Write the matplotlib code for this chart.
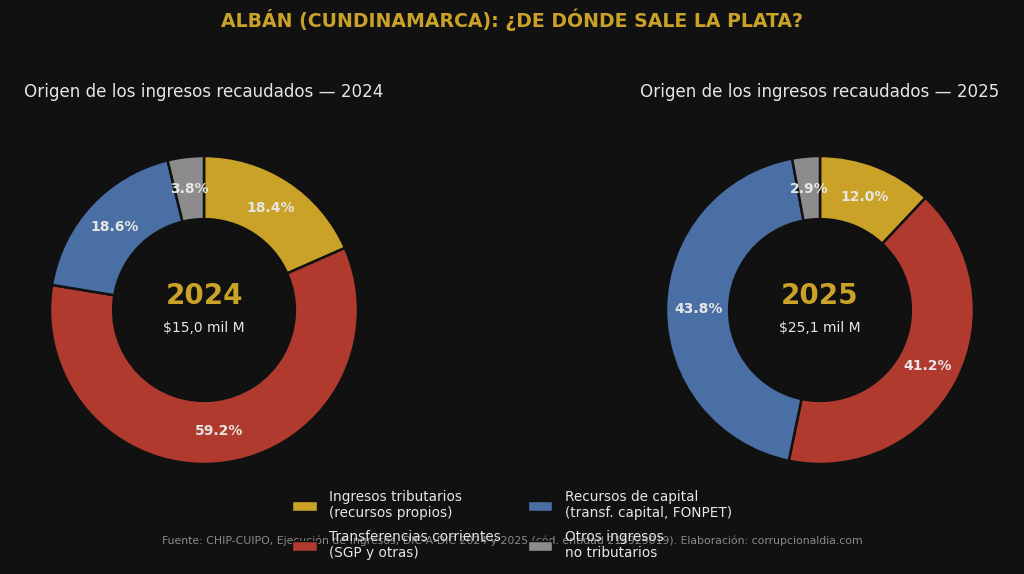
import matplotlib.pyplot as plt
from matplotlib.patches import Patch

# data
categorias = ['Ingresos tributarios\n(recursos propios)',
              'Transferencias corrientes\n(SGP y otras)',
              'Recursos de capital\n(transf. capital, FONPET)',
              'Otros ingresos\nno tributarios']
pct_2024 = [18.4, 59.2, 18.6, 3.8]
pct_2025 = [12.0, 41.2, 43.8, 2.9]
anios = ['2024', '2025']
totales = ['$15,0 mil M', '$25,1 mil M']
colores = ['#C9A227', '#B03A2E', '#4A6FA5', '#8C8C8C']

bg = '#111111'
gold = '#C9A227'
light = '#E6E6E6'

fig = plt.figure(figsize=(10.24, 5.74), dpi=100, facecolor=bg)

fig.text(0.5, 1 - 20 / 574, 'ALBÁN (CUNDINAMARCA): ¿DE DÓNDE SALE LA PLATA?',
         ha='center', va='center', color=gold, fontsize=13.6, fontweight='bold')

centros = [204, 820]
for cx, anio, total, vals in zip(centros, anios, totales, [pct_2024, pct_2025]):
    ax = fig.add_axes([(cx - 192.5) / 1024, 71.5 / 574, 385 / 1024, 385 / 574])
    ax.set_facecolor(bg)
    wedges, texts, autotexts = ax.pie(
        vals, colors=colores, startangle=90, counterclock=False,
        autopct='%1.1f%%', pctdistance=0.79,
        wedgeprops=dict(width=0.41, edgecolor=bg, linewidth=1.8),
        textprops=dict(color=light, fontsize=10, fontweight='bold'))
    ax.set_aspect('equal')
    ax.text(0, 0.09, anio, ha='center', va='center', color=gold,
            fontsize=20, fontweight='bold')
    ax.text(0, -0.12, total, ha='center', va='center', color=light, fontsize=10)
    fig.text(cx / 1024, 1 - 92 / 574, 'Origen de los ingresos recaudados — ' + anio,
             ha='center', va='center', color=light, fontsize=12.1)

fig.text(0.5, 1 - 541 / 574,
         'Fuente: CHIP-CUIPO, Ejecución de Ingresos, DIC-A-DIC 2024 y 2025 '
         '(cód. entidad 215925019). Elaboración: corrupcionaldia.com',
         ha='center', va='center', color='#8A8A8A', fontsize=7.8)

handles = [Patch(facecolor=c, edgecolor=bg) for c in colores]
leg = fig.legend(handles, categorias, ncol=2, loc='center',
                 bbox_to_anchor=(0.5, 1 - 525 / 574), frameon=False,
                 fontsize=9.8, labelcolor=light, handlelength=1.8,
                 handleheight=0.75, handletextpad=0.9,
                 columnspacing=2.0, labelspacing=0.75)

fig.savefig('out.png', dpi=100, facecolor=bg)
